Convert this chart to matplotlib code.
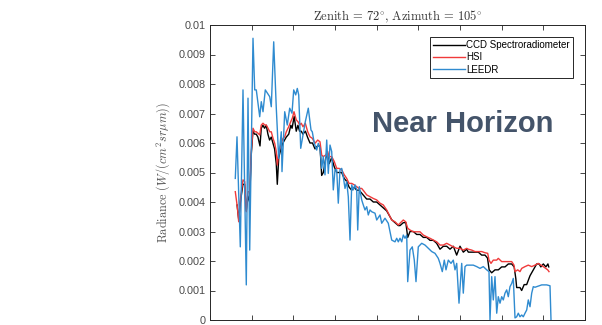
import matplotlib
matplotlib.use("Agg")
import matplotlib.pyplot as plt

plt.rcParams['mathtext.fontset'] = 'cm'
plt.rcParams['font.family'] = ['Liberation Sans', 'DejaVu Sans']

# LEEDR (modelo)
wl_leedr = [360.7, 364.8, 372.7, 379.2, 387.1, 391.2, 395.3, 403.2, 407.3, 411.1,
            419.3, 423.1, 427.2, 432.7, 443.3, 447.1, 452.9, 459.1, 464.9, 471.1,
            472.8, 479.3, 485.5, 491.3, 496.8, 500.9, 505.7, 509.5, 512.9, 517.7,
            523.2, 528.7, 535.9, 542.4, 545.5, 550.3, 556.1, 559.9, 564.0, 568.1,
            571.9, 576.0, 580.1, 583.9, 588.0, 592.1, 595.9, 600.0, 604.1, 607.9,
            612.0, 616.1, 619.9, 624.0, 628.1, 631.9, 636.0, 640.1, 643.9, 648.0,
            652.1, 654.5, 658.3, 664.1, 667.9, 672.0, 676.1, 679.9, 684.0, 688.1,
            696.0, 700.1, 708.0, 712.1, 720.0, 727.9, 736.1, 744.0, 748.1, 751.9,
            756.0, 760.1, 763.9, 768.0, 772.1, 774.5, 780.0, 785.5, 790.3, 794.4,
            799.9, 808.1, 816.0, 823.9, 832.1, 840.0, 847.9, 852.0, 857.5, 862.3,
            866.4, 871.9, 878.4, 883.9, 888.0, 892.1, 897.6, 904.1, 907.9, 912.0,
            916.1, 924.0, 931.9, 940.1, 948.0, 955.9, 964.1, 969.6, 972.0, 976.1,
            979.9, 984.0, 988.1, 991.9, 996.0, 1000.1, 1003.9, 1008.0, 1012.1, 1015.9,
            1020.0, 1024.1, 1027.9, 1032.0, 1036.1, 1039.9, 1044.0, 1048.1, 1051.9, 1056.0,
            1060.1, 1063.9, 1068.0, 1072.1, 1075.9, 1080.0, 1087.9, 1096.1, 1108.1, 1116.0,
            1118.4]
rad_leedr = [0.00480, 0.00621, 0.00248, 0.00780, 0.00119, 0.00752, 0.00237, 0.00955, 0.00780, 0.00780,
             0.00689, 0.00740, 0.00706, 0.00780, 0.00757, 0.00723, 0.00943, 0.00718, 0.00548, 0.00638,
             0.00503, 0.00706, 0.00661, 0.00718, 0.00701, 0.00780, 0.00763, 0.00785, 0.00763, 0.00582,
             0.00627, 0.00672, 0.00718, 0.00644, 0.00638, 0.00599, 0.00576, 0.00599, 0.00582, 0.00514,
             0.00554, 0.00492, 0.00610, 0.00497, 0.00593, 0.00571, 0.00441, 0.00509, 0.00509, 0.00396,
             0.00509, 0.00514, 0.00486, 0.00446, 0.00469, 0.00418, 0.00271, 0.00458, 0.00441, 0.00458,
             0.00441, 0.00305, 0.00452, 0.00407, 0.00390, 0.00373, 0.00384, 0.00356, 0.00373, 0.00367,
             0.00362, 0.00339, 0.00356, 0.00328, 0.00345, 0.00328, 0.00271, 0.00265, 0.00277, 0.00265,
             0.00277, 0.00265, 0.00288, 0.00277, 0.00288, 0.00130, 0.00237, 0.00248, 0.00203, 0.00130,
             0.00248, 0.00260, 0.00254, 0.00243, 0.00232, 0.00226, 0.00209, 0.00192, 0.00164, 0.00203,
             0.00170, 0.00203, 0.00192, 0.00203, 0.00170, 0.00192, 0.00057, 0.00192, 0.00091, 0.00181,
             0.00186, 0.00186, 0.00186, 0.00181, 0.00175, 0.00181, 0.00170, 0.00164, 0.00000, 0.00147,
             0.00068, 0.00147, 0.00023, 0.00079, 0.00057, 0.00079, 0.00068, 0.00091, 0.00102, 0.00079,
             0.00113, 0.00124, 0.00141, 0.00007, 0.00011, 0.00023, 0.00011, 0.00017, 0.00011, 0.00023,
             0.00034, 0.00068, 0.00045, 0.00091, 0.00113, 0.00111, 0.00115, 0.00119, 0.00119, 0.00116,
             0.00000]

# HSI
wl_hsi = [360.7, 365.5, 368.9, 372.7, 379.2, 383.3, 387.1, 391.2, 395.3, 399.1,
          403.2, 407.3, 411.1, 415.2, 419.3, 423.1, 427.2, 431.3, 435.1, 439.2,
          443.3, 447.1, 451.2, 455.3, 459.1, 461.5, 464.9, 469.7, 475.2, 479.3,
          483.1, 488.9, 493.7, 497.5, 501.6, 507.1, 511.2, 515.3, 519.1, 523.2,
          528.7, 534.5, 540.0, 545.5, 552.0, 558.5, 564.0, 568.1, 571.9, 577.7,
          582.5, 585.6, 592.1, 598.3, 604.1, 609.6, 616.1, 622.3, 628.1, 633.6,
          640.1, 646.3, 652.1, 657.6, 664.1, 670.3, 676.1, 684.0, 691.9, 700.1,
          708.0, 715.9, 724.1, 727.9, 736.1, 744.0, 751.9, 756.0, 763.9, 769.7,
          774.5, 780.0, 787.9, 796.1, 804.0, 811.9, 820.1, 828.0, 835.9, 844.1,
          852.0, 859.9, 868.1, 876.0, 883.9, 892.1, 900.0, 907.9, 916.1, 919.9,
          928.1, 936.0, 943.9, 952.1, 960.0, 966.5, 969.6, 974.4, 979.9, 988.1,
          991.9, 1000.1, 1008.0, 1015.9, 1024.1, 1029.6, 1032.0, 1038.5, 1044.0, 1048.1,
          1056.0, 1063.9, 1072.1, 1080.0, 1087.9, 1094.4, 1099.9, 1105.7, 1110.5, 1113.6]
rad_hsi = [0.00435, 0.00384, 0.00333, 0.00407, 0.00475, 0.00469, 0.00367, 0.00435, 0.00435, 0.00571,
           0.00650, 0.00638, 0.00638, 0.00633, 0.00627, 0.00661, 0.00667, 0.00661, 0.00661, 0.00650,
           0.00638, 0.00638, 0.00616, 0.00599, 0.00571, 0.00525, 0.00565, 0.00593, 0.00616, 0.00621,
           0.00638, 0.00655, 0.00672, 0.00684, 0.00706, 0.00678, 0.00672, 0.00661, 0.00667, 0.00655,
           0.00667, 0.00638, 0.00621, 0.00616, 0.00599, 0.00610, 0.00604, 0.00559, 0.00554, 0.00559,
           0.00571, 0.00554, 0.00554, 0.00537, 0.00514, 0.00514, 0.00509, 0.00492, 0.00480, 0.00463,
           0.00463, 0.00458, 0.00452, 0.00446, 0.00446, 0.00435, 0.00424, 0.00418, 0.00412, 0.00407,
           0.00396, 0.00390, 0.00373, 0.00362, 0.00339, 0.00333, 0.00322, 0.00328, 0.00339, 0.00333,
           0.00311, 0.00305, 0.00299, 0.00299, 0.00299, 0.00288, 0.00282, 0.00277, 0.00271, 0.00265,
           0.00254, 0.00254, 0.00260, 0.00254, 0.00248, 0.00243, 0.00243, 0.00237, 0.00243, 0.00240,
           0.00237, 0.00232, 0.00232, 0.00232, 0.00228, 0.00226, 0.00203, 0.00192, 0.00203, 0.00203,
           0.00209, 0.00198, 0.00198, 0.00198, 0.00198, 0.00186, 0.00164, 0.00170, 0.00164, 0.00175,
           0.00181, 0.00186, 0.00181, 0.00186, 0.00192, 0.00186, 0.00181, 0.00175, 0.00170, 0.00164]

# CCD Spectroradiometer
wl_ccd = [365, 369, 373, 379, 383, 387, 391, 395, 399, 403,
          407, 411, 415, 420, 423, 427, 431, 435, 439, 443,
          447, 451, 455, 459, 461.5, 465, 470, 475, 479, 483,
          489, 494, 497, 502, 507, 511, 515, 519, 523, 529,
          534, 540, 546, 552, 558, 564, 568, 572, 578, 582,
          586, 592, 598, 604, 610, 616, 622, 628, 634, 640,
          646, 652, 658, 664, 670, 676, 684, 692, 700, 708,
          716, 724, 728, 736, 744, 752, 756, 764, 770, 774.5,
          780, 788, 796, 804, 812, 820, 828, 836, 844, 852,
          860, 868, 876, 884, 892, 900, 908, 916, 920, 928,
          936, 944, 952, 960, 966, 970, 976, 984, 992, 1000,
          1008, 1016, 1024, 1030, 1034, 1036, 1044, 1048, 1054, 1060,
          1068, 1076, 1084, 1090, 1094, 1100, 1106, 1111, 1113]
rad_ccd = [0.0039, 0.0034, 0.0040, 0.0046, 0.0046, 0.0037, 0.0042, 0.0040, 0.0056, 0.0064,
           0.0063, 0.0063, 0.0062, 0.0059, 0.0065, 0.0066, 0.0065, 0.0066, 0.0063, 0.0061,
           0.0062, 0.0060, 0.0058, 0.0053, 0.0046, 0.0055, 0.0058, 0.0060, 0.0061, 0.0062,
           0.0063, 0.0066, 0.0065, 0.0069, 0.0064, 0.0066, 0.0064, 0.0064, 0.0063, 0.0064,
           0.0062, 0.0060, 0.0060, 0.0058, 0.0059, 0.0059, 0.0049, 0.0050, 0.0055, 0.0056,
           0.0053, 0.0055, 0.0052, 0.0050, 0.0050, 0.0050, 0.0048, 0.0047, 0.0045, 0.0044,
           0.0045, 0.0044, 0.0044, 0.0043, 0.0042, 0.0041, 0.0041, 0.0040, 0.0040, 0.0039,
           0.0038, 0.0037, 0.0036, 0.0034, 0.0033, 0.0032, 0.0032, 0.0033, 0.0033, 0.0028,
           0.0030, 0.0030, 0.0029, 0.0029, 0.0028, 0.0028, 0.0027, 0.0027, 0.0026, 0.0024,
           0.0025, 0.0025, 0.0024, 0.0025, 0.0022, 0.0025, 0.0023, 0.0024, 0.0023, 0.0023,
           0.0023, 0.0023, 0.0022, 0.0022, 0.0021, 0.0017, 0.0016, 0.0017, 0.0017, 0.0018,
           0.0018, 0.0019, 0.0019, 0.0018, 0.0014, 0.0011, 0.0011, 0.0010, 0.0012, 0.0012,
           0.0015, 0.0017, 0.0019, 0.0019, 0.0018, 0.0019, 0.0018, 0.0019, 0.0018]

y_ticks = [0, 0.001, 0.002, 0.003, 0.004, 0.005, 0.006, 0.007, 0.008, 0.009, 0.01]
y_tick_labels = ['0', '0.001', '0.002', '0.003', '0.004', '0.005', '0.006',
                 '0.007', '0.008', '0.009', '0.01']
x_ticks = [300, 400, 500, 600, 700, 800, 900, 1000, 1100, 1200]

fig = plt.figure(figsize=(6.02, 3.25), dpi=100)
ax = fig.add_axes([210/602, 5/325, 375/602, 295/325])

ax.plot(wl_ccd, rad_ccd, color='black', lw=1.0, label='CCD Spectroradiometer')
ax.plot(wl_hsi, rad_hsi, color='#f03a3a', lw=1.0, label='HSI')
ax.plot(wl_leedr, rad_leedr, color='#2f8bd0', lw=1.0, label='LEEDR')

ax.set_xlim(300, 1200)
ax.set_ylim(0, 0.01)
ax.set_xticks(x_ticks)
ax.set_yticks(y_ticks)
ax.set_yticklabels(y_tick_labels)
# las etiquetas del eje x quedan fuera de la imagen recortada
ax.tick_params(direction='in', length=3.5, width=0.6, color='#262626',
               labelsize=7.8, labelcolor='#4a4a4a', top=True, right=True, pad=3,
               labelbottom=False)
for s in ax.spines.values():
    s.set_linewidth(0.7)
    s.set_color('#262626')

ax.set_title(r'$\mathrm{Zenith}\,=\,72^{\circ},\,\mathrm{Azimuth}\,=\,105^{\circ}$',
             fontsize=9, color='#333333', pad=3)
ax.set_ylabel(r'$\mathrm{Radiance}\ (W/(cm^2sr\mu m))$', fontsize=8.8,
              color='#555555', labelpad=5)

leg = ax.legend(loc='upper right', bbox_to_anchor=(0.968, 0.959), borderaxespad=0,
                fontsize=7, handlelength=3.3, handletextpad=0.1, labelspacing=0.25,
                borderpad=0.3, fancybox=False, framealpha=1)
leg.get_frame().set_edgecolor('#262626')
leg.get_frame().set_linewidth(0.7)

fig.text(372/602, 1 - 124/325, 'Near Horizon', fontsize=21, fontweight='bold',
         color='#44546a', ha='left', va='center')

fig.savefig('out.png', dpi=100)
